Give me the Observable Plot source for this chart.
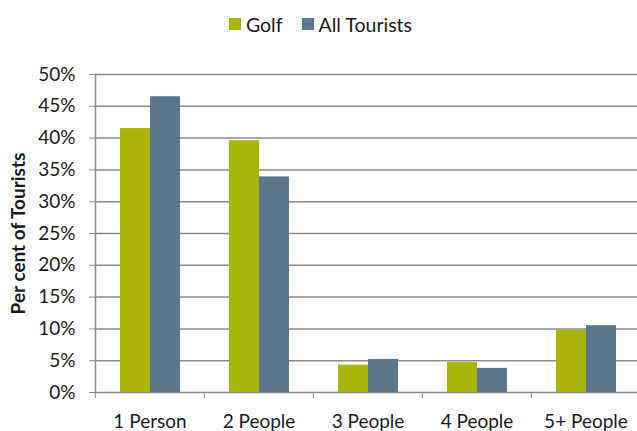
<!DOCTYPE html>
<html>
<head>
<meta charset="utf-8">
<script src="https://cdn.jsdelivr.net/npm/d3@7"></script>
<script src="https://cdn.jsdelivr.net/npm/@observablehq/plot@0.6"></script>
<style>
  html, body { margin: 0; padding: 0; background: #fff; }
  body { width: 637px; height: 431px; overflow: hidden; font-family: Lato, "Open Sans", sans-serif; color: #1a1a1a; }
  #legend { height: 48px; display: flex; justify-content: center; align-items: center; gap: 19px; font-size: 19.5px; padding-left: 4px; box-sizing: border-box; }
  #legend .item { display: flex; align-items: center; gap: 5px; }
  #legend .sw { width: 12px; height: 12px; display: inline-block; }
  g[aria-label="y-axis label"] text { font-weight: bold; }
</style>
</head>
<body>
<div id="legend"></div>
<div id="chart"></div>
<script>
const categories = ["1 Person", "2 People", "3 People", "4 People", "5+ People"];
const seriesNames = ["Golf", "All Tourists"];
const golf = [41.5, 39.6, 4.3, 4.7, 9.8];
const allTourists = [46.5, 33.9, 5.2, 3.8, 10.5];
const yTicks = [0, 5, 10, 15, 20, 25, 30, 35, 40, 45, 50];
const colors = ["#a9b40c", "#5b768d"];

const data = categories.flatMap((c, i) => [
  {cat: c, series: seriesNames[0], v: golf[i]},
  {cat: c, series: seriesNames[1], v: allTourists[i]}
]);

// legend
const legend = document.getElementById("legend");
seriesNames.forEach((s, i) => {
  const it = document.createElement("span");
  it.className = "item";
  const sw = document.createElement("span");
  sw.className = "sw";
  sw.style.background = colors[i];
  const t = document.createElement("span");
  t.textContent = s;
  it.appendChild(sw); it.appendChild(t);
  legend.appendChild(it);
});

const W = 637, H = 383, ML = 94, MR = -4, MT = 26, MB = 39;
const step = (W - ML - MR) / categories.length;
const gridColor = "#8a8a8a";

const chart = Plot.plot({
  width: W, height: H,
  marginLeft: ML, marginRight: MR, marginTop: MT, marginBottom: MB,
  style: {fontFamily: "Lato, 'Open Sans', sans-serif", fontSize: "19px", color: "#1a1a1a", overflow: "visible"},
  fx: {domain: categories, padding: 0, label: null},
  x: {domain: seriesNames, paddingInner: 0, paddingOuter: 0.77, axis: null},
  y: {domain: [0, 50], label: null},
  color: {domain: seriesNames, range: colors},
  marks: [
    Plot.ruleY(yTicks, {stroke: gridColor, strokeWidth: 1.5}),
    Plot.barY(data, {fx: "cat", x: "series", y: "v", fill: "series"}),
    Plot.frame({anchor: "left", facetAnchor: "left", stroke: gridColor, strokeWidth: 1.5}),
    Plot.axisY({
      ticks: yTicks, tickFormat: d => d + "%", tickSize: 6, tickPadding: 14,
      stroke: gridColor, strokeOpacity: 1, fontSize: 19,
      label: "Per cent of Tourists", labelAnchor: "center", labelArrow: "none", labelOffset: 84
    }),
    Plot.axisFx({anchor: "bottom", tickSize: 6, tickFormat: () => "", dx: -step / 2, stroke: gridColor, strokeOpacity: 1, label: null}),
    Plot.axisFx({anchor: "bottom", tickSize: 0, tickPadding: 22, fontSize: 19, label: null})
  ]
});
document.getElementById("chart").appendChild(chart);
</script>
</body>
</html>
